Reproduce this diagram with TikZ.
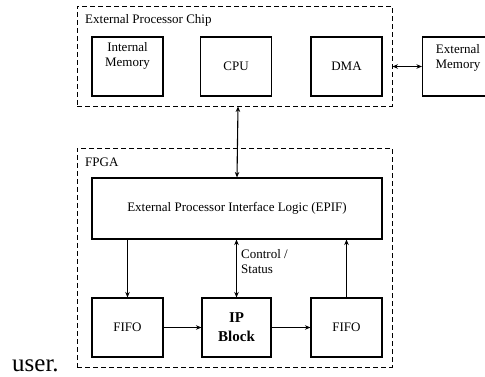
\documentclass[tikz,border=0pt]{standalone}
\usepackage{fontspec}
\setmainfont{Liberation Serif}
\usetikzlibrary{arrows.meta}

\tikzset{
  blk/.style={draw, line width=1.1pt, minimum width=71pt, minimum height=59pt, inner sep=0pt},
  group/.style={draw, dashed, line width=0.9pt, dash pattern=on 5pt off 3pt, inner sep=0pt},
  lbl/.style={inner sep=0pt, font=\fontsize{13}{15}\selectfont},
  link/.style={line width=1.1pt, >={Stealth[length=5.5pt,width=4.5pt]}}
}

\begin{document}
\begin{tikzpicture}[x=1pt, y=-1pt]
  \useasboundingbox (0,0) rectangle (485,377);

  % External processor chip
  \node[group, minimum width=315pt, minimum height=100pt] (chip) at (234.5,56) {};
  \node[lbl, anchor=west] (chiplbl) at (85,20) {External Processor Chip};

  \node[blk] (imem) at (127.5,66.5) {};
  \node[lbl, anchor=north, align=center] (imemtxt) at ([yshift=-6pt]imem.north) {Internal\\Memory};
  \node[blk, lbl] (cpu) at (236,66.5) {CPU};
  \node[blk, lbl] (dma) at (346.5,66.5) {DMA};

  \node[blk] (extmem) at (458,66.5) {};
  \node[lbl, anchor=north, align=center] (extmemtxt) at ([yshift=-8pt]extmem.north) {External\\Memory};

  % FPGA
  \node[group, minimum width=315pt, minimum height=219pt] (fpga) at (234.5,257.5) {};
  \node[lbl, anchor=west] (fpgalbl) at (85,162) {FPGA};

  \node[blk, lbl, minimum width=290pt, minimum height=61pt] (epif) at (237,208.5) {External Processor Interface Logic (EPIF)};
  \node[blk, lbl] (fifoin) at (127.5,327.5) {FIFO};
  \node[blk, minimum width=69pt, align=center, inner sep=0pt,
        font=\fontsize{15}{19}\selectfont\bfseries] (ip) at (236.5,327.5) {IP\\Block};
  \node[blk, lbl] (fifoout) at (346.5,327.5) {FIFO};

  \node[lbl, anchor=west, align=left] (ctrl) at (241,261.5) {Control /\\Status};

  % connections
  \draw[link, <->] (dma.east -| chip.east) -- (extmem.west);
  \draw[link, <->] ([xshift=2pt]cpu.south |- chip.south) -- ([xshift=1pt]epif.north -| cpu.south);
  \draw[link, ->] (epif.south -| fifoin) -- (fifoin.north);
  \draw[link, <->] (epif.south -| ip) -- (ip.north);
  \draw[link, ->] (fifoout.north) -- (epif.south -| fifoout);
  \draw[link, ->] (fifoin.east) -- (ip.west);
  \draw[link, ->] (ip.east) -- (fifoout.west);

  \node[anchor=base west, inner sep=0pt, font=\fontsize{25}{30}\selectfont] (user) at (12,371) {user.};
\end{tikzpicture}
\end{document}
